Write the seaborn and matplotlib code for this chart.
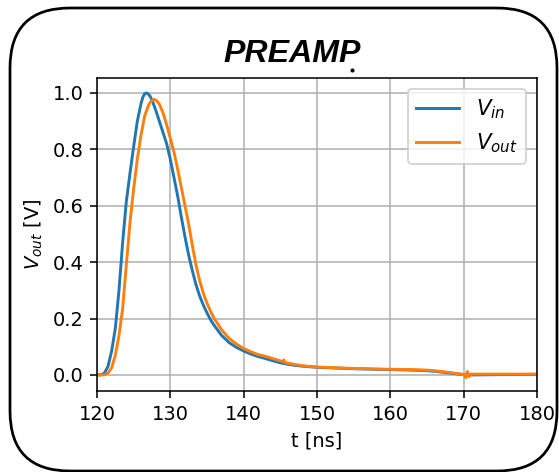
import matplotlib
matplotlib.use("Agg")
import matplotlib.pyplot as plt
from matplotlib.patches import FancyBboxPatch
from matplotlib.lines import Line2D
import seaborn as sns

# ---- data ----
t_in = [120.0, 120.5, 121.0, 121.5, 122.0, 122.5, 123.0, 123.5, 124.0, 124.5,
        125.0, 125.5, 126.0, 126.25, 126.5, 126.75, 127.0, 127.25, 127.5, 128.0,
        128.5, 129.0, 129.5, 130.0, 130.5, 131.0, 131.5, 132.0, 132.5, 133.0,
        133.5, 134.0, 134.5, 135.0, 135.5, 136.0, 137.0, 138.0, 139.0, 140.0,
        141.0, 142.0, 143.0, 144.0, 145.0, 146.0, 147.0, 148.0, 149.0, 150.0,
        152.0, 155.0, 158.0, 160.0, 163.0, 165.0, 166.0, 167.0, 168.0, 169.0,
        170.0, 171.0, 175.0, 180.0]
v_in = [0.0, 0.0, 0.006, 0.03, 0.085, 0.165, 0.30, 0.47, 0.615, 0.715,
        0.81, 0.90, 0.962, 0.985, 0.997, 1.0, 0.996, 0.988, 0.975, 0.94,
        0.90, 0.86, 0.82, 0.765, 0.70, 0.635, 0.56, 0.49, 0.425, 0.37,
        0.32, 0.28, 0.248, 0.22, 0.195, 0.175, 0.14, 0.115, 0.098, 0.085,
        0.074, 0.065, 0.058, 0.05, 0.043, 0.038, 0.034, 0.031, 0.029, 0.027,
        0.025, 0.022, 0.02, 0.019, 0.017, 0.015, 0.013, 0.01, 0.007, 0.004,
        0.001, 0.0, 0.001, 0.002]

t_out = [120.0, 120.5, 121.0, 121.5, 122.0, 122.5, 123.0, 123.5, 124.0, 124.5,
         125.0, 125.5, 126.0, 126.5, 127.0, 127.25, 127.5, 127.75, 128.0, 128.25,
         128.5, 129.0, 129.5, 130.0, 130.5, 131.0, 131.5, 132.0, 132.5, 133.0,
         133.5, 134.0, 134.5, 135.0, 135.5, 136.0, 137.0, 138.0, 139.0, 140.0,
         141.0, 142.0, 143.0, 144.0, 145.0, 145.4, 145.5, 145.6, 146.0, 147.0,
         148.0, 149.0, 150.0, 152.0, 155.0, 158.0, 160.0, 163.0, 165.0, 166.0,
         167.0, 168.0, 169.0, 170.0, 170.3, 170.5, 170.7, 171.0, 175.0, 180.0]
v_out = [0.0, 0.0, 0.0, 0.006, 0.025, 0.07, 0.14, 0.235, 0.39, 0.54,
         0.66, 0.765, 0.85, 0.918, 0.955, 0.967, 0.974, 0.977, 0.975, 0.969,
         0.96, 0.93, 0.887, 0.84, 0.79, 0.73, 0.665, 0.60, 0.535, 0.46,
         0.39, 0.335, 0.29, 0.255, 0.225, 0.20, 0.16, 0.13, 0.11, 0.094,
         0.082, 0.072, 0.066, 0.058, 0.05, 0.047, 0.053, 0.044, 0.042, 0.037,
         0.033, 0.030, 0.028, 0.026, 0.023, 0.021, 0.020, 0.019, 0.017, 0.015,
         0.012, 0.009, 0.005, 0.002, -0.010, 0.012, -0.006, 0.003, 0.003, 0.003]

x_ticks = [120, 130, 140, 150, 160, 170, 180]
y_ticks = [0.0, 0.2, 0.4, 0.6, 0.8, 1.0]

fig = plt.figure(figsize=(559 / 140, 472 / 140), dpi=140)
ax = fig.add_axes([0.1735, 0.1716, 0.9606 - 0.1735, 0.8347 - 0.1716])

sns.lineplot(x=t_in, y=v_in, ax=ax, color="#1f77b4", lw=1.5,
             estimator=None, sort=False, label=r"$V_{in}$")
sns.lineplot(x=t_out, y=v_out, ax=ax, color="#ff7f0e", lw=1.5,
             estimator=None, sort=False, label=r"$V_{out}$")

ax.set_xlim(120, 180)
ax.set_ylim(-0.057, 1.053)
ax.set_xticks(x_ticks)
ax.set_yticks(y_ticks)
ax.grid(True)
ax.set_xlabel("t [ns]")
ax.set_ylabel(r"$V_{out}$ [V]")
ax.legend(loc="upper right", fontsize=11)

# title as figure text
fig.text(292 / 559, 1 - 62 / 472, "PREAMP", fontsize=16.5, fontweight="bold",
         fontstyle="italic", family="Liberation Sans", ha="center", va="baseline")

# stray dot under the title
fig.add_artist(Line2D([352 / 559], [1 - 70 / 472], marker="o", ms=1.1,
                      color="black", transform=fig.transFigure))

# rounded frame around everything (pixel coordinates)
frame = FancyBboxPatch((10, 1), 547, 463,
                       boxstyle="round,pad=0,rounding_size=60",
                       transform=None, fill=False, ec="black", lw=1.4)
fig.patches.append(frame)

fig.savefig("out.png", dpi=140)
